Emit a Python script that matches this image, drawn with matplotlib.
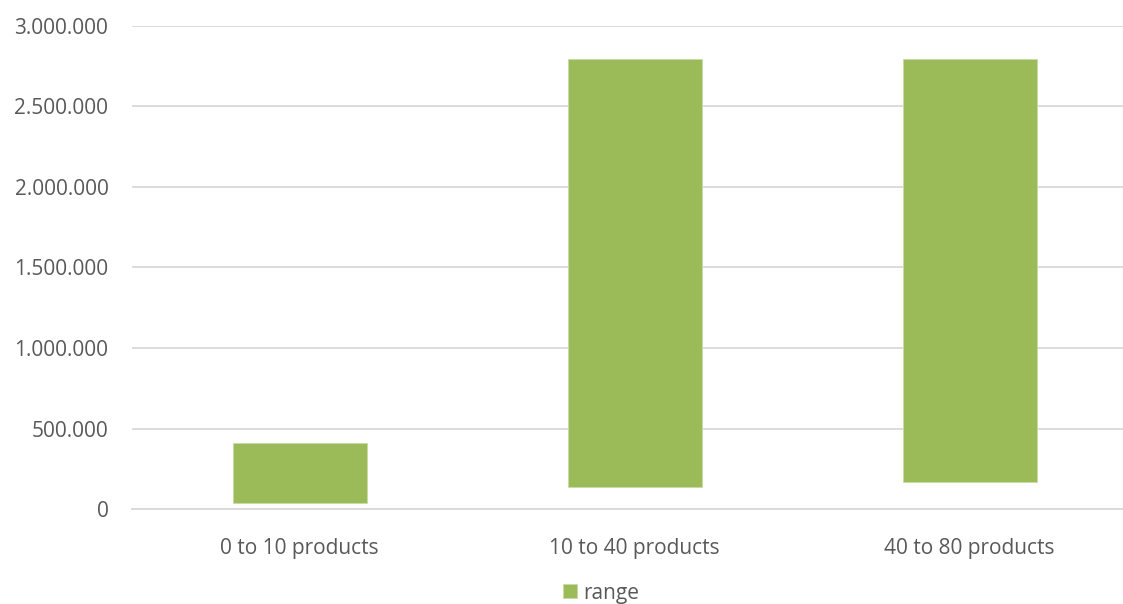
import matplotlib
matplotlib.use("Agg")
import matplotlib.pyplot as plt
from matplotlib.ticker import FuncFormatter, MultipleLocator

# floating "range" bars, low and high ends
categories = ["0 to 10 products", "10 to 40 products", "40 to 80 products"]
low = [37000, 138000, 169000]
high = [410000, 2791000, 2791000]
series_name = "range"

green = "#9BBB59"
grey_text = "#595959"
grid_col = "#D9D9D9"

plt.rcParams["font.family"] = ["Open Sans", "DejaVu Sans"]
plt.rcParams["font.size"] = 15

fig = plt.figure(figsize=(11.23, 6.04), dpi=100)
W, H = 1123, 604
# plot area in pixels: x 132..1137 (runs off the right edge), y 25.7..509.3
ax = fig.add_axes([132 / W, 1 - 509.3 / H, (1137 - 132) / W, (509.3 - 25.7) / H])

x = range(len(categories))
heights = [h - l for h, l in zip(high, low)]
bars = ax.bar(x, heights, bottom=low, width=0.4, color=green,
              edgecolor="#C9DBA4", linewidth=0.6, label=series_name, zorder=3)

ax.set_xlim(-0.5, len(categories) - 0.5)
ax.set_ylim(0, 3000000)
ax.yaxis.set_major_locator(MultipleLocator(500000))
ax.yaxis.set_major_formatter(FuncFormatter(lambda v, p: f"{int(v):,}".replace(",", ".")))
ax.set_xticks(list(x))
ax.set_xticklabels(categories)

ax.grid(axis="y", color=grid_col, linewidth=1.3, zorder=0)
ax.set_axisbelow(True)
for s in ["top", "right", "left"]:
    ax.spines[s].set_visible(False)
ax.spines["bottom"].set_color(grid_col)
ax.spines["bottom"].set_linewidth(1.3)
ax.tick_params(axis="both", length=0, colors=grey_text, labelsize=15)
ax.tick_params(axis="y", pad=17)
ax.tick_params(axis="x", pad=21)

fig.legend(handles=[bars], labels=[series_name], loc="center",
           bbox_to_anchor=(601 / W, 1 - 593 / H), frameon=False,
           handlelength=0.67, handleheight=0.67, handletextpad=0.3,
           labelcolor=grey_text, fontsize=15, borderaxespad=0, borderpad=0)

fig.savefig("out.png", dpi=100)
